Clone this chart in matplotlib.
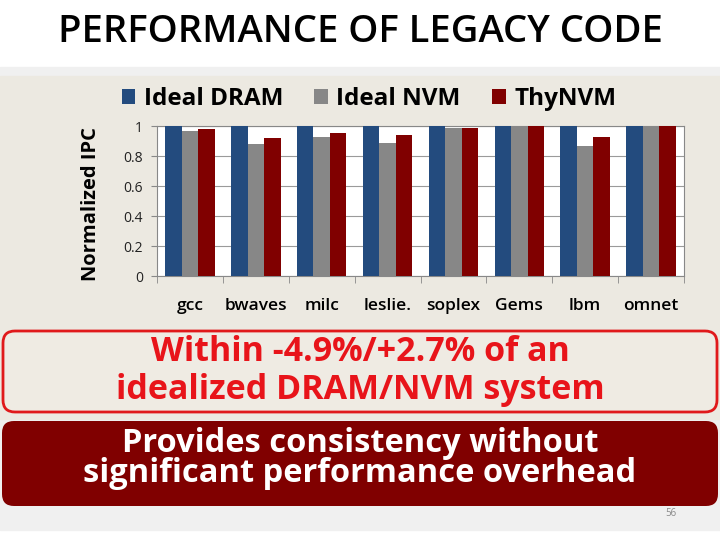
import matplotlib.pyplot as plt
import numpy as np
from matplotlib.patches import FancyBboxPatch, Rectangle

plt.rcParams['font.family'] = ['Open Sans', 'DejaVu Sans']

benchmarks = ['gcc', 'bwaves', 'milc', 'leslie.', 'soplex', 'Gems', 'lbm', 'omnet']
ideal_dram = [1.0, 1.0, 1.0, 1.0, 1.0, 1.0, 1.0, 1.0]
ideal_nvm = [0.97, 0.88, 0.93, 0.89, 0.985, 1.0, 0.865, 0.995]
thynvm = [0.98, 0.92, 0.955, 0.94, 0.99, 1.0, 0.925, 1.0]

series = [('Ideal DRAM', ideal_dram, '#234b7e'),
          ('Ideal NVM', ideal_nvm, '#878787'),
          ('ThyNVM', thynvm, '#800000')]

W, H = 720, 540
fig = plt.figure(figsize=(7.2, 5.4), dpi=100)

# slide background drawn in pixel coordinates
bg = fig.add_axes([0, 0, 1, 1])
bg.set_xlim(0, W)
bg.set_ylim(H, 0)
bg.axis('off')
bg.add_patch(Rectangle((0, 67), W, 463, color='#f0f0f0', zorder=0))
bg.add_patch(Rectangle((0, 76), W, 343, color='#ece9e1', zorder=0))

bg.text(360, 32, 'PERFORMANCE OF LEGACY CODE', ha='center', va='center',
        fontsize=27.5, fontweight='semibold', color='black')

bg.add_patch(FancyBboxPatch((3, 331), 714, 81, boxstyle='round,pad=0,rounding_size=12',
                            facecolor='#efebe3', edgecolor='#e0191b', linewidth=2, zorder=1))
bg.text(360, 352, 'Within -4.9%/+2.7% of an', ha='center', va='center',
        fontsize=24.5, fontweight='bold', color='#e8141a', zorder=2)
bg.text(360, 390, 'idealized DRAM/NVM system', ha='center', va='center',
        fontsize=24.5, fontweight='bold', color='#e8141a', zorder=2)

bg.add_patch(FancyBboxPatch((2, 421), 716, 85, boxstyle='round,pad=0,rounding_size=12',
                            facecolor='#800000', edgecolor='none', zorder=1))
bg.text(360, 443, 'Provides consistency without', ha='center', va='center',
        fontsize=23.5, fontweight='bold', color='white', zorder=2)
bg.text(360, 474, 'significant performance overhead', ha='center', va='center',
        fontsize=23.5, fontweight='bold', color='white', zorder=2)

bg.text(671, 514, '56', ha='center', va='center', fontsize=7, color='#8a8a8a')

# chart
ax = fig.add_axes([157 / W, 1 - 276 / H, 527 / W, 150 / H])
ax.set_facecolor('white')
x = np.arange(len(benchmarks))
bw = 0.25
for i, (name, vals, col) in enumerate(series):
    ax.bar(x + (i - 1) * bw, vals, bw, color=col, label=name, zorder=3)

ax.set_xlim(-0.5, len(benchmarks) - 0.5)
ax.set_ylim(0, 1)
ax.set_yticks([0, 0.2, 0.4, 0.6, 0.8, 1.0])
ax.set_yticklabels(['0', '0.2', '0.4', '0.6', '0.8', '1'], fontsize=10, color='#222222')
ax.yaxis.grid(True, color='#9a9a9a', linewidth=0.8, zorder=0)
ax.tick_params(axis='y', length=4, color='#888888', pad=6)

ax.set_xticks(x)
ax.set_xticklabels(benchmarks, fontsize=12.5, fontweight='semibold')
ax.tick_params(axis='x', length=0, pad=16)
ax.set_xticks(np.arange(-0.5, len(benchmarks)), minor=True)
ax.tick_params(axis='x', which='minor', length=5, color='#888888')

for s in ax.spines.values():
    s.set_color('#888888')
    s.set_linewidth(0.8)

ax.set_ylabel('Normalized IPC', fontsize=14.5, fontweight='bold')
ax.yaxis.set_label_coords(-0.107, 0.48)

ax.legend(loc='center', bbox_to_anchor=(0.402, 1.18), ncol=3, frameon=False,
          prop={'size': 17.5, 'weight': 'bold'}, handlelength=0.55, handleheight=0.55,
          columnspacing=1.3, handletextpad=0.35, borderaxespad=0)

fig.savefig('out.png', dpi=100)
